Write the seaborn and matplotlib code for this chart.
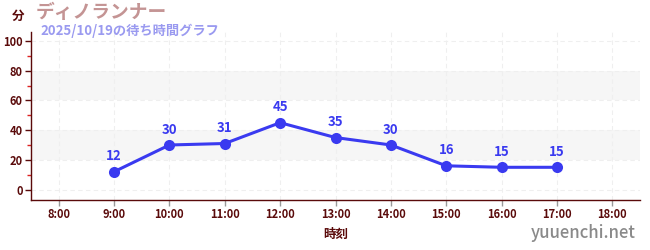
import matplotlib
matplotlib.use("Agg")
import matplotlib.pyplot as plt
import seaborn as sns
import pandas as pd
from matplotlib.ticker import MultipleLocator

hours = [9, 10, 11, 12, 13, 14, 15, 16, 17]
waits = [12, 30, 31, 45, 35, 30, 16, 15, 15]
xtick_hours = list(range(8, 19))
xtick_labels = [f"{h}:00" for h in xtick_hours]
yticks = [0, 20, 40, 60, 80, 100]
title = "ディノランナー"
subtitle = "2025/10/19の待ち時間グラフ"
unit = "分"
xlabel = "時刻"
watermark = "yuuenchi.net"

sns.set_style("white")
plt.rcParams['font.family'] = ['Noto Sans CJK JP', 'DejaVu Sans']

df = pd.DataFrame({"hour": hours, "wait": waits})

fig = plt.figure(figsize=(6.5, 2.5), dpi=100)
ax = fig.add_axes([31/650, 50/250, 609/650, 168/250])

dark = "#5a0a0a"
blue = "#3a3af0"

for lo, hi in [(20, 40), (60, 80)]:
    ax.axhspan(lo, hi, color="#f6f6f6", zorder=0, lw=0)
for y in yticks:
    ax.axhline(y, color="#efefef", lw=0.8, ls=(0, (4, 3)), zorder=0.5)
for h in xtick_hours:
    ax.axvline(h, color="#efefef", lw=0.8, ls=(0, (4, 3)), zorder=0.5)

sns.lineplot(data=df, x="hour", y="wait", ax=ax, color=blue, lw=2.2,
             marker="o", markersize=8, markeredgewidth=0, zorder=3)
for h, w in zip(hours, waits):
    ax.annotate(str(w), (h, w), xytext=(0, 6), textcoords="offset points",
                ha="center", va="bottom", color=blue, fontsize=9.5,
                fontweight="bold")

ax.set_xlim(7.5, 18.5)
ax.set_ylim(-7, 106)
ax.set_xticks(xtick_hours)
ax.set_xticklabels(xtick_labels)
ax.set_yticks(yticks)
ax.yaxis.set_minor_locator(MultipleLocator(10))
ax.tick_params(left=True, bottom=True, which="both")
ax.tick_params(axis="y", which="minor", length=3, color="#dd2222", width=1)
ax.tick_params(axis="both", which="major", length=4, color=dark, width=1,
               labelsize=8, labelcolor=dark, pad=2)
ax.tick_params(axis="x", which="major", color="#999999")
for lab in ax.get_xticklabels() + ax.get_yticklabels():
    lab.set_fontweight("bold")
ax.set_xlabel(xlabel, color=dark, fontsize=9, fontweight="bold", labelpad=5)
ax.set_ylabel("")

for s in ["top", "right"]:
    ax.spines[s].set_visible(False)
for s in ["left", "bottom"]:
    ax.spines[s].set_color(dark)
    ax.spines[s].set_linewidth(1)

fig.text(12/650, 1 - 16/250, unit, color=dark, fontsize=9, fontweight="bold",
         va="center", ha="left")
fig.text(36/650, 1 - 13/250, title, color="#c49494", fontsize=13.5,
         fontweight="bold", va="center", ha="left")
fig.text(40/650, 1 - 31/250, subtitle, color="#9a9af0", fontsize=9.5,
         fontweight="bold", va="center", ha="left")
fig.text(636/650, 1 - 233/250, watermark, color="#8a8a8a", fontsize=12,
         fontweight="medium", va="center", ha="right")

fig.savefig("out.png", dpi=100)
